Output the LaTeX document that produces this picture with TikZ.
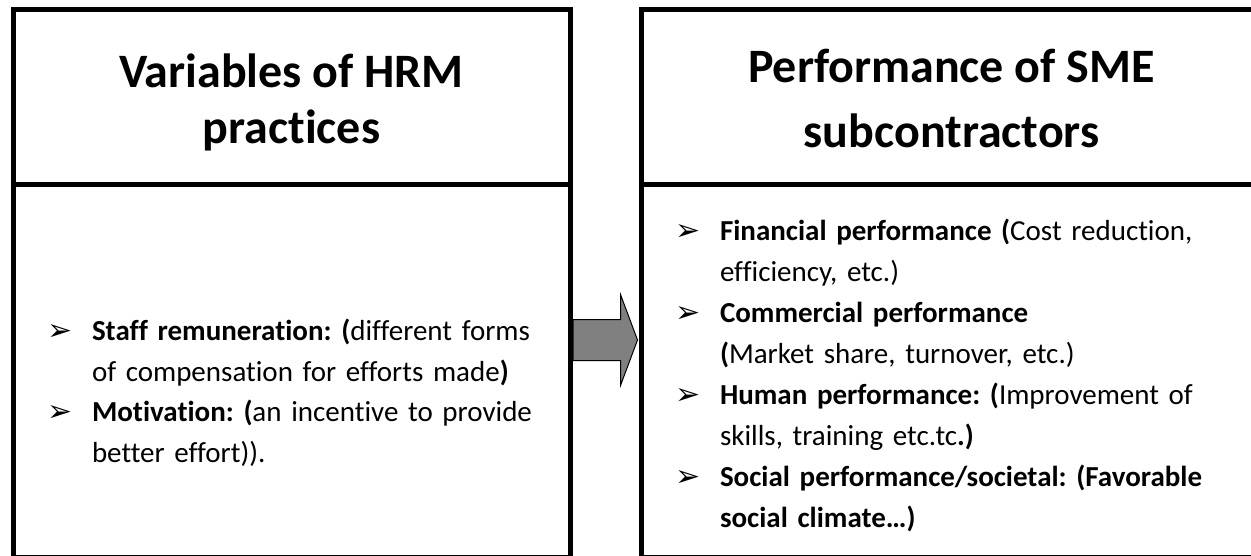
\documentclass[tikz,border=0pt]{standalone}
\usepackage{fontspec}
\setmainfont{Carlito}[Ligatures=NoCommon]
\newfontfamily\bulletfont{DejaVu Sans}
\usetikzlibrary{calc, positioning}
\frenchspacing

% one bullet line of a list: arrowhead, then hanging text
\newcommand{\itm}[1]{\par\noindent\hangindent=45pt\hangafter=1%
  \makebox[45pt][l]{\raisebox{0pt}{\bulletfont\fontsize{30}{30}\selectfont ➢}}#1}

\tikzset{
  framebox/.style={draw, line width=5pt},
  titletext/.style={font=\fontsize{48}{59}\selectfont\bfseries, align=center},
  listtext/.style={font=\fontsize{29}{41}\selectfont, text width=560pt, align=left, anchor=base west},
  blockarrow/.style={draw, line width=1pt, fill=gray, line join=miter},
}

\begin{document}
\begin{tikzpicture}[x=1pt, y=-1pt, every node/.style={inner sep=0pt, outer sep=0pt}]
    \useasboundingbox (0,0) rectangle (1251,556);
    \clip (0,0) rectangle (1251,556);

    % the two boxes: left (HRM practices), right (SME performance)
    \node[framebox, minimum width=557pt, minimum height=175pt] (hrmhead) at (291.5,97.5) {};
    \node[framebox, minimum width=557pt, minimum height=372pt] (hrmbody) at (291.5,371) {};
    \node[framebox, minimum width=621pt, minimum height=175pt] (smehead) at (951.5,97.5) {};
    \node[framebox, minimum width=621pt, minimum height=372pt] (smebody) at (951.5,371) {};

    % block arrow from left box to right box
    \coordinate (tail) at (hrmbody.east |- 0,340);
    \coordinate (tip) at ($(smebody.west |- 0,340)+(-3.5,0)$);
    \draw[blockarrow] ($(tail)+(3,-20.5)$) -- ($(tip)+(-17,-20.5)$) -- ($(tip)+(-17,-45.5)$)
        -- (tip) -- ($(tip)+(-17,45.5)$) -- ($(tip)+(-17,20.5)$) -- ($(tail)+(3,20.5)$) -- cycle;

    % titles
    \node[titletext, font=\fontsize{48}{56}\selectfont\bfseries, yshift=-5pt] (hrmtitle) at (hrmhead.center) {Variables of HRM\\practices};
    \node[titletext, font=\fontsize{48}{65}\selectfont\bfseries, yshift=-1.5pt] (smetitle) at (smehead.center) {Performance of SME\\subcontractors};

    % lists
    \node[listtext] (hrmlist) at (47,299) {%
        \itm{\textbf{Staff remuneration: (}different forms\newline of compensation for efforts made\textbf{)}}
        \itm{\textbf{Motivation: (}an incentive to provide\newline better effort)).}\par};
    \node[listtext] (smelist) at (675,200) {%
        \itm{\textbf{Financial performance (}Cost reduction,\newline efficiency, etc.)}
        \itm{\textbf{Commercial performance}\newline \textbf{(}Market share, turnover, etc.)}
        \itm{\textbf{Human performance: (}Improvement of\newline skills, training etc.tc\textbf{.)}}
        \itm{\textbf{Social performance/societal: (Favorable\newline social climate…)}}\par};
\end{tikzpicture}
\end{document}
